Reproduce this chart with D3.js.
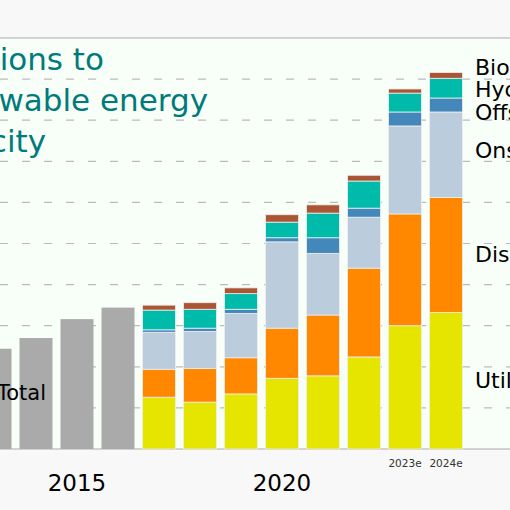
<!DOCTYPE html>
<html><head><meta charset="utf-8">
<script src="https://cdn.jsdelivr.net/npm/d3@7"></script>
<style>body{margin:0;background:#f8f8f8}svg{display:block}</style>
</head><body><div id="vis"></div>
<script>
const width = 510, height = 510;

// GW
const totalYears = [2013, 2014, 2015, 2016];
const totals = [122, 135, 158, 172];
const years = [2017, 2018, 2019, 2020, 2021, 2022, 2023, 2024];
const yearLabels = ["2017", "2018", "2019", "2020", "2021", "2022", "2023e", "2024e"];
const seriesNames = ["Utility-scale solar PV", "Distributed solar PV", "Onshore wind", "Offshore wind", "Hydropower", "Bioenergy"];
const utility = [63, 57, 67, 86, 89, 112, 150, 166];
const distributed = [34, 41, 44, 61, 74, 108, 136, 140];
const onshore = [45, 45, 54, 105, 75, 62, 107, 104];
const offshore = [3, 4, 5, 5, 19, 11, 17, 17];
const hydro = [24, 23, 19, 19, 30, 33, 23, 24];
const bio = [6, 8, 7, 9, 10, 7, 5, 7];
const colors = ["#e5e500", "#ff8800", "#bbccdd", "#4488bb", "#00bbaa", "#aa5533"];
const labelY = [388, 262, 158, 120, 97, 75];
const gridTicks = d3.range(0, 501, 50);
const font = "DejaVu Sans, sans-serif";

const rows = years.map((y, i) => ({year: y, label: yearLabels[i],
	s0: utility[i], s1: distributed[i], s2: onshore[i], s3: offshore[i], s4: hydro[i], s5: bio[i]}));
const stack = d3.stack().keys(["s0", "s1", "s2", "s3", "s4", "s5"])(rows);

const x = d3.scaleLinear().domain([2015, 2020]).range([77, 282]);
const y = d3.scaleLinear().domain([0, 500]).range([449, 38]);
const bw = 33;

const svg = d3.select("#vis").append("svg").attr("width", width).attr("height", height);

svg.append("rect").attr("x", 0).attr("y", y(500)).attr("width", width)
	.attr("height", y(0) - y(500)).attr("fill", "#f8fff8");

svg.append("g").selectAll("line").data(gridTicks).join("line")
	.attr("x1", 0).attr("x2", width)
	.attr("y1", d => y(d)).attr("y2", d => y(d))
	.attr("stroke", d => d === 0 || d === 500 ? "#aaa" : "#bbb")
	.attr("stroke-width", d => d === 0 || d === 500 ? 1 : 1.2)
	.attr("stroke-dasharray", d => d === 0 || d === 500 ? null : "8,14");

// title
const title = svg.append("text").attr("fill", "#007b7b").attr("font-family", font)
	.attr("font-size", 31).attr("text-anchor", "end");
[["Annual additions to", 104, 70], ["renewable energy", 208, 111], ["capacity", 46, 152]]
	.forEach(([t, ex, ey]) => title.append("tspan").attr("x", ex).attr("y", ey).text(t));

// totals
svg.append("g").selectAll("rect").data(totalYears).join("rect")
	.attr("x", d => x(d) - bw / 2).attr("width", bw)
	.attr("y", (d, i) => y(totals[i])).attr("height", (d, i) => y(0) - y(totals[i]))
	.attr("fill", "#aaaaaa");
svg.append("text").attr("x", -3).attr("y", 400).attr("font-size", 21)
	.attr("font-family", font).text("Total");

// stacked
svg.append("g").selectAll("g").data(stack).join("g")
	.attr("fill", (d, i) => colors[i])
	.selectAll("rect").data(d => d).join("rect")
	.attr("x", d => x(d.data.year) - bw / 2).attr("width", bw)
	.attr("y", d => y(d[1])).attr("height", d => y(d[0]) - y(d[1]))
	.attr("stroke", "#eeeeee").attr("stroke-width", 0.8);

// series labels
svg.append("g").selectAll("text").data(seriesNames).join("text")
	.attr("x", 475).attr("y", (d, i) => labelY[i])
	.attr("font-size", 22).attr("font-family", font).text(d => d);

// x labels
svg.append("g").selectAll("text").data([2015, 2020]).join("text")
	.attr("x", d => x(d)).attr("y", 491).attr("text-anchor", "middle")
	.attr("font-size", 23).attr("font-family", font).text(d => d);
svg.append("g").selectAll("text").data(rows.slice(6)).join("text")
	.attr("x", d => x(d.year)).attr("y", 467).attr("text-anchor", "middle")
	.attr("font-size", 10.5).attr("fill", "#333").attr("font-family", font).text(d => d.label);
</script></body></html>
